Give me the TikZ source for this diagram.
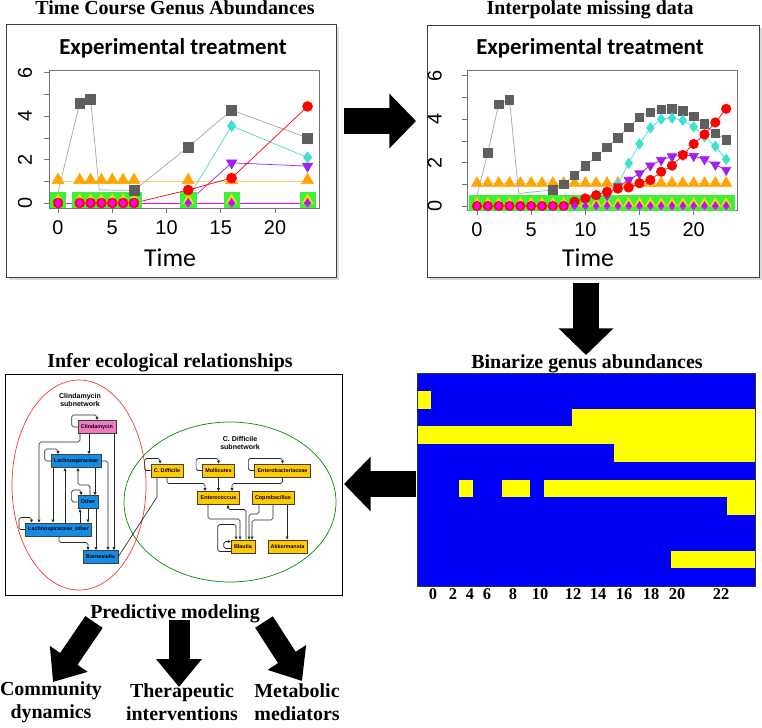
\documentclass[tikz,border=0pt]{standalone}
\usepackage{fontspec}
\setmainfont{Liberation Serif}
\newfontfamily\arialfont{Liberation Sans}
\newfontfamily\califont{Carlito}
\usetikzlibrary{arrows.meta,calc,plotmarks}

\definecolor{hmblue}{HTML}{0000F5}
\definecolor{hmyellow}{HTML}{FFFF00}
\definecolor{clinpink}{HTML}{F07AC2}
\definecolor{netblue}{HTML}{148CE6}
\definecolor{netgold}{HTML}{FFC800}
\definecolor{rgray}{HTML}{5F5F5F}
\definecolor{rcyan}{HTML}{40E0D0}
\definecolor{rpurple}{HTML}{A020F0}
\definecolor{rorange}{HTML}{FFA500}
\definecolor{rgreen}{HTML}{3CF03C}
\definecolor{ryellow}{HTML}{FFD700}
\definecolor{rmagenta}{HTML}{FF00FF}
\definecolor{rred}{HTML}{FF0000}

\tikzset{
  ttl/.style={font=\bfseries\fontsize{17}{19.5}\selectfont, inner sep=0pt, align=center},
  plottitle/.style={font=\califont\bfseries\fontsize{19.5}{22}\selectfont, inner sep=0pt},
  axnum/.style={font=\arialfont\fontsize{17}{19}\selectfont, inner sep=0pt},
  timelab/.style={font=\califont\fontsize{22}{24}\selectfont, inner sep=0pt},
  hmlab/.style={font=\bfseries\fontsize{14}{16}\selectfont, inner sep=0pt},
  panel/.style={draw=black!75, line width=0.8pt, fill=white},
  axbox/.style={draw=black!55, line width=0.6pt},
  series/.style={line width=0.6pt},
  netnode/.style={draw=black!75, line width=0.5pt, font=\arialfont\bfseries\fontsize{4.6}{5}\selectfont,
    inner xsep=2.5pt, inner ysep=0pt, minimum height=0.4cm},
  clinnode/.style={netnode, fill=clinpink},
  bnode/.style={netnode, fill=netblue},
  gnode/.style={netnode, fill=netgold},
  sublab/.style={font=\arialfont\bfseries\fontsize{6}{7}\selectfont, align=center, inner sep=0pt},
  edge/.style={draw=black!85, line width=0.55pt, rounded corners=1.5pt, -{Triangle[length=2.6pt,width=2.4pt]}},
  link/.style={draw=black!85, line width=0.55pt},
  bigarrow/.style={line width=0.8cm, -{Triangle[length=0.8cm,width=1.6cm]}},
  smallarrow/.style={line width=0.63cm, -{Triangle[length=0.84cm,width=1.32cm]}}
}

\newcommand{\selfloop}[2][0]{\draw[edge] (#2.west) -- ++(-6,0) -- ++(0,-12) -| ($(#2.north)+(#1,0)$);}

\begin{document}
\begin{tikzpicture}[x=0.03cm, y=-0.03cm]
\useasboundingbox (0,0) rectangle (762,727);

% Titles
\node[ttl] (tRaw) at (175,8) {Time Course Genus Abundances};
\node[ttl] (tInt) at (590,10) {Interpolate missing data};
\node[ttl] (tBin) at (587,363.5) {Binarize genus abundances};
\node[ttl] (tNet) at (170,363) {Infer ecological relationships};
\node[ttl] (tPred) at (175,613.5) {Predictive modeling};
\node[ttl] (oComm) at (51,702) {Community\\dynamics};
\node[ttl] (oTher) at (182,702) {Therapeutic\\interventions};
\node[ttl] (oMeta) at (297,702) {Metabolic\\mediators};

% Raw time course
\fill[black!15] (9,27) rectangle (339,280);
\draw[panel] (6,24) rectangle (336,277);
\node[plottitle] (eRaw) at (173,48.5) {Experimental treatment};
\node[timelab] (xRaw) at (170,258) {Time};
\begin{scope}[shift={(58,203)}, x=0.3255cm, y=0.651cm]
  \draw[axbox] (-0.83,-0.23) rectangle (24.05,6.13);
  \foreach \v in {0,...,6} \draw[axbox] (-0.83,\v) -- ++(-0.15cm,0);
  \foreach \v in {0,2,4,6} \node[axnum, rotate=90] (ly\v) at (-3.05,\v) {\v};
  \foreach \tm in {0,5,...,20} {
    \draw[axbox] (\tm,-0.23) -- ++(0,-0.15cm);
    \node[axnum] (lx\tm) at (\tm,-1.15) {\tm};
  }
  % lines
  \draw[series, rgray!55] (0,0.5) -- (2,4.6) -- (3,4.8) -- (3.8,0.6) -- (7,0.58) -- (12,2.58) -- (16,4.28) -- (23,3.0);
  \draw[series, rorange!55] (0,1) -- (23,1);
  \draw[series, rcyan] (12,0.25) -- (16,3.55) -- (23,2.1);
  \draw[series, rpurple] (12,0.05) -- (16,1.85) -- (23,1.7);
  \draw[series, rred] (7,0) -- (12,0.6) -- (16,1.15) -- (23,4.45);
  \draw[series, rmagenta] (0,0) -- (23,0);
  % marks
  \draw[rgreen] plot[only marks, mark=square*, mark size=6.5pt, samples at={0,2,3,4,5,6,7,12,16,23}] (\x,0.15);
  \draw[ryellow] plot[only marks, mark=triangle*, mark size=5.5pt, samples at={0,2,3,4,5,6,7,12,16,23}] (\x,0.12);
  \draw[rorange] plot[only marks, mark=triangle*, mark size=6pt, samples at={0,2,3,4,5,6,7,12,16,23}] (\x,1.05);
  \draw[rgray] plot[only marks, mark=square*, mark size=4.2pt] coordinates {(2,4.6) (3,4.8) (7,0.58) (12,2.58) (16,4.28) (23,3.0)};
  \draw[rcyan] plot[only marks, mark=diamond*, mark size=4.8pt] coordinates {(16,3.55) (23,2.1)};
  \draw[rpurple] plot[only marks, mark=triangle*, mark size=5.2pt, mark options={rotate=180}] coordinates {(16,1.85) (23,1.7)};
  \draw[rred] plot[only marks, mark=*, mark size=4.3pt] coordinates {(0,0) (2,0) (3,0) (4,0) (5,0) (6,0) (7,0) (12,0.6) (16,1.15) (23,4.45)};
  \draw[rmagenta] plot[only marks, mark=diamond*, mark size=3.6pt, samples at={0,2,3,4,5,6,7,12,16,23}] (\x,0);
  \draw[rpurple] plot[only marks, mark=triangle*, mark size=3pt, samples at={12,16,23}] (\x,0.05);
\end{scope}

% Interpolated time course
\fill[black!15] (430,28) rectangle (762,280);
\draw[panel] (427,25) rectangle (759,277);
\node[plottitle] (eInt) at (590,48.5) {Experimental treatment};
\node[timelab] (xInt) at (588,258) {Time};
\begin{scope}[shift={(477,206)}, x=0.325cm, y=0.651cm]
  \draw[axbox] (-0.92,-0.18) rectangle (24.0,6.27);
  \foreach \v in {0,...,6} \draw[axbox] (-0.92,\v) -- ++(-0.15cm,0);
  \foreach \v in {0,2,4,6} \node[axnum, rotate=90] (ry\v) at (-3.9,\v) {\v};
  \foreach \tm in {0,5,...,20} {
    \draw[axbox] (\tm,-0.18) -- ++(0,-0.15cm);
    \node[axnum] (rx\tm) at (\tm,-1.1) {\tm};
  }
  % bottom band
  \draw[series, rmagenta] (0,0) -- (23,0);
  \draw[rgreen] plot[only marks, mark=square*, mark size=6.5pt, domain=0:23, samples=24] (\x,0.15);
  \draw[ryellow] plot[only marks, mark=triangle*, mark size=5pt, domain=0:23, samples=24] (\x,0.12);
  \draw[series, rorange!55] plot[mark=triangle*, mark size=5.4pt, mark options={fill=rorange, draw=rorange}, domain=0:23, samples=24] (\x,1.05);
  % gray
  \draw[series, rgray!55] (0,0.5) -- (1,2.46) -- (2,4.7) -- (3,4.9) -- (3.85,0.58) -- (7,0.74);
  \draw[series, rgray!55] plot[mark=square*, mark size=3.6pt, mark options={fill=rgray, draw=rgray}] coordinates {(7,0.74) (8,1.0) (9,1.4) (10,1.86) (11,2.28) (12,2.7) (13,3.15) (14,3.63) (15,4.08) (16,4.32) (17,4.46) (18,4.48) (19,4.38) (20,4.12) (21,3.78) (22,3.35) (23,3.05)};
  \draw[rgray] plot[only marks, mark=square*, mark size=3.6pt] coordinates {(1,2.46) (2,4.7) (3,4.9)};
  % cyan
  \draw[series, rcyan] plot[mark=diamond*, mark size=4.4pt] coordinates {(13,1.0) (14,1.97) (15,2.86) (16,3.6) (17,4.0) (18,4.05) (19,3.95) (20,3.65) (21,3.2) (22,2.75) (23,2.15)};
  % purple
  \draw[series, rpurple] plot[mark=triangle*, mark size=4.6pt, mark options={rotate=180}] coordinates {(12,0.5) (13,0.9) (14,1.2) (15,1.5) (16,1.86) (17,2.12) (18,2.28) (19,2.35) (20,2.3) (21,2.15) (22,1.9) (23,1.66)};
  % red
  \draw[series, rred] plot[mark=*, mark size=4pt] coordinates {(0,0) (1,0) (2,0) (3,0) (4,0) (5,0) (6,0) (7,0) (8,0) (9,0.2) (10,0.35) (11,0.5) (12,0.66) (13,0.8) (14,0.85) (15,1.05) (16,1.2) (17,1.58) (18,1.86) (19,2.35) (20,2.86) (21,3.3) (22,3.85) (23,4.48)};
  \draw[rmagenta] plot[only marks, mark=diamond*, mark size=3.4pt, domain=0:23, samples=24] (\x,0);
  \draw[rpurple] plot[only marks, mark=triangle*, mark size=2.8pt, domain=9:23, samples=15] (\x,0.05);
\end{scope}

% Binarized abundances
\fill[hmblue] (417,373) rectangle (755,586);
\foreach \r/\a/\b in {2/0/1, 3/11/24, 4/0/24, 5/14/24, 7/3/4, 7/6/8, 7/9/24, 8/22/24, 11/18/24}
  \fill[hmyellow] ({417+\a*14.083},{373+(\r-1)*17.75}) rectangle ({417+\b*14.083},{373+\r*17.75});
\draw[black!80, line width=0.6pt] (417,373) rectangle (755,586);
\foreach \lab/\xp in {0/433, 2/453, 4/470, 6/487, 8/513, 10/540, 12/573, 14/598, 16/624, 18/651, 20/677, 22/721}
  \node[hmlab] (hl\lab) at (\xp,594) {\lab};

% Network panel
\draw[line width=0.8pt] (5,374) rectangle (342,595);
\draw[red!80, line width=0.6pt] (79,485) ellipse [x radius=2.01cm, y radius=3.15cm];
\draw[green!55!black, line width=0.6pt] (230,502) ellipse [x radius=3.18cm, y radius=2.4cm];
\node[sublab] (subClin) at (80,400) {Clindamycin\\subnetwork};
\node[sublab] (subCdif) at (240,443) {C. Difficile\\subnetwork};

% Nodes
\node[clinnode] (clin) at (97,427) {Clindamycin};
\node[bnode] (lachno) at (76,461) {Lachnospiraceae};
\node[bnode] (other) at (88,502) {Other};
\node[bnode] (lother) at (58.5,529.5) {Lachnospiraceae\_other};
\node[bnode] (barn) at (100.5,557) {Barnesiella};
\node[gnode] (cdiff) at (167,470.5) {C. Difficile};
\node[gnode] (molli) at (218.5,470.5) {Mollicutes};
\node[gnode] (entb) at (282.5,470.5) {Enterobacteriaceae};
\node[gnode] (entc) at (218.5,498) {Enterococcus};
\node[gnode] (copro) at (273,498) {Coprobacillus};
\node[gnode] (blaut) at (243,546.5) {Blautia};
\node[gnode] (akk) at (287.5,546.5) {Akkermansia};

% Edges
\selfloop{clin}
\selfloop[-18]{lachno}
\selfloop[-7]{other}
\selfloop[-27]{lother}
\draw[edge] ($(clin.south)+(-17,0)$) -- ++(0,8) -| ($(lother.north)+(-19.5,0)$);
\draw[edge] ($(clin.south)+(-8,0)$) -- ($(lachno.north)+(13,0)$);
\draw[edge] ($(clin.south)+(17,0)$) -- ($(barn.north)+(13.5,0)$);
\draw[edge] (lachno.east) -| ($(barn.north)+(7.5,0)$);
\draw[edge] ($(lachno.south)+(19,0)$) -- ($(other.north)+(7,0)$);
\draw[edge] ($(other.north)+(2,0)$) -- ++(0,-10) -| ($(lachno.south)+(2,0)$);
\draw[edge] ($(lachno.south)+(-23,0)$) -- ($(lother.north)+(-5.5,0)$);
\draw[edge] ($(lother.north)+(6.5,0)$) -- ($(lachno.south)+(-11,0)$);
\draw[edge] ($(lother.north)+(21.5,0)$) -- ($(other.south)+(-8,0)$);
\draw[edge] (other.south) -- ($(lother.north)+(29.5,0)$);
\draw[edge] ($(other.south)+(8,0)$) -- ($(barn.north)+(-4.5,0)$);
\draw[edge] ($(lother.south)+(0.5,0)$) -- ++(0,6) -| ($(barn.north)+(-12.5,0)$);
\draw[link] (barn.east) -- (157,497) -- ($(cdiff.south)+(-10,0)$);
\selfloop[-7]{cdiff}
\selfloop{molli}
\selfloop{entb}
\draw[edge] (cdiff.south) -- ++(0,6) -| ($(entc.north)+(-13.5,0)$);
\draw[edge] (molli.south) -- (entc.north);
\draw[edge] (entb.south) -- ++(0,6) -| ($(entc.north)+(13.5,0)$);
\draw[edge] ($(entc.south)+(-10.5,0)$) -- ++(0,14) -| ($(blaut.north)+(-3,0)$);
\draw[edge] ($(blaut.north)+(3,0)$) -- ++(0,-30) -| ($(entc.south)+(9.5,0)$);
\draw[edge] ($(copro.south)+(-14,0)$) -- ++(0,9) -| ($(blaut.north)+(6,0)$);
\draw[edge] (copro.south) -- ++(0,15) -| ($(blaut.north)+(9,0)$);
\draw[edge] ($(copro.south)+(14,0)$) -- ($(akk.north)+(-0.5,0)$);
\draw[edge] ($(blaut.west)+(0,5)$) -- ++(-13,0) -- ++(0,-27) -| ($(blaut.north)+(-7,0)$);
\draw[edge] ($(blaut.west)+(0,2)$) -- ++(-7,0) -- ++(0,-7) -- ++(7,0);

% Block arrows
\coordinate (aRawS) at (344,121);
\coordinate (aRawE) at (416,121);
\coordinate (aIntS) at (586,283);
\coordinate (aIntE) at (586,355);
\coordinate (aBinS) at (416,484);
\coordinate (aBinE) at (344,484);
\coordinate (aCommS) at (94,622);
\coordinate (aCommE) at (53,682);
\coordinate (aTherS) at (179,620);
\coordinate (aTherE) at (179,687);
\coordinate (aMetaS) at (264,622);
\coordinate (aMetaE) at (302,681);
\draw[bigarrow] (aRawS) -- (aRawE);
\draw[bigarrow] (aIntS) -- (aIntE);
\draw[bigarrow] (aBinS) -- (aBinE);
\draw[smallarrow] (aCommS) -- (aCommE);
\draw[smallarrow] (aTherS) -- (aTherE);
\draw[smallarrow] (aMetaS) -- (aMetaE);
\end{tikzpicture}
\end{document}
